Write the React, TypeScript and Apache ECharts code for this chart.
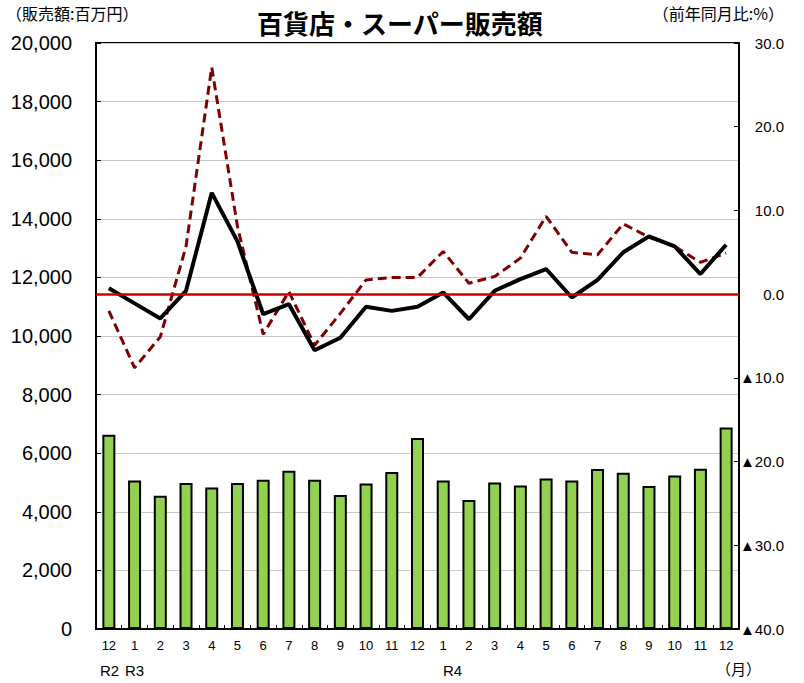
import React, { useEffect, useRef } from "react";
import * as echarts from "echarts";

const months = ["12", "1", "2", "3", "4", "5", "6", "7", "8", "9", "10", "11", "12", "1", "2", "3", "4", "5", "6", "7", "8", "9", "10", "11", "12"];
const sales = [6630, 5070, 4550, 4980, 4830, 4980, 5090, 5400, 5090, 4570, 4970, 5360, 6520, 5070, 4400, 5000, 4900, 5140, 5070, 5460, 5330, 4880, 5240, 5470, 6880];
const yoySolid = [0.7, -1.1, -2.9, 0.4, 12.1, 6.3, -2.4, -1.2, -6.7, -5.2, -1.5, -2.0, -1.5, 0.2, -3.0, 0.4, 1.8, 3.0, -0.4, 1.7, 5.0, 6.9, 5.7, 2.4, 5.9];
const yoyDashed = [-2.0, -8.8, -5.1, 5.7, 27.1, 8.1, -4.8, 0.3, -6.1, -2.3, 1.7, 2.0, 2.0, 5.1, 1.3, 2.1, 4.3, 9.3, 5.0, 4.7, 8.4, 6.8, 5.7, 3.8, 4.9];
const eraLabels = [
  { text: "R2", x: 100 },
  { text: "R3", x: 125 },
  { text: "R4", x: 443 },
];

const NUM_FONT = "'Liberation Sans', Arial, sans-serif";
const JP_FONT = "'Noto Sans CJK JP', sans-serif";

export default function App() {
  const ref = useRef<HTMLDivElement>(null);
  useEffect(() => {
    if (!ref.current) return;
    const chart = echarts.init(ref.current, null, { renderer: "svg" });
    chart.setOption({
      animation: false,
      backgroundColor: "#fff",
      grid: {
        left: 96,
        right: 65,
        top: 43,
        bottom: 54,
        show: true,
        borderColor: "#000",
        borderWidth: 2,
        backgroundColor: "transparent",
      },
      graphic: [
        {
          type: "text",
          left: 6,
          top: 5,
          style: { text: "（販売額:百万円）", font: `16px ${JP_FONT}`, fill: "#000" },
        },
        {
          type: "text",
          right: 20,
          top: 5,
          style: { text: "（前年同月比:%）", font: `16px ${JP_FONT}`, fill: "#000" },
        },
        {
          type: "text",
          left: 257,
          top: 9,
          style: { text: "百貨店・スーパー販売額", font: `bold 26px ${JP_FONT}`, fill: "#000" },
        },
        ...eraLabels.map((e) => ({
          type: "text",
          left: e.x,
          top: 663,
          style: { text: e.text, font: `15px ${NUM_FONT}`, fill: "#000" },
        })),
        {
          type: "text",
          left: 716,
          top: 661,
          style: { text: "（月）", font: `15px ${JP_FONT}`, fill: "#000" },
        },
      ],
      xAxis: {
        type: "category",
        data: months,
        boundaryGap: true,
        axisLine: { show: true, lineStyle: { color: "#000", width: 2 } },
        axisTick: { show: true, inside: true, length: 4, lineStyle: { color: "#000" } },
        axisLabel: { color: "#000", fontSize: 13, fontFamily: NUM_FONT, margin: 10, interval: 0 },
        splitLine: { show: false },
      },
      yAxis: [
        {
          type: "value",
          min: 0,
          max: 20000,
          interval: 2000,
          axisLine: { show: true, lineStyle: { color: "#000", width: 2 } },
          axisTick: { show: true, inside: true, length: 5, lineStyle: { color: "#000" } },
          axisLabel: {
            color: "#000",
            fontSize: 20,
            fontFamily: NUM_FONT,
            margin: 24,
            formatter: (v: number) => v.toLocaleString("en-US"),
          },
          splitLine: { show: true, lineStyle: { color: "#c8c8c8", width: 1 } },
        },
        {
          type: "value",
          min: -40,
          max: 30,
          interval: 10,
          position: "right",
          axisLine: { show: true, lineStyle: { color: "#000", width: 2 } },
          axisTick: { show: true, inside: true, length: 5, lineStyle: { color: "#000" } },
          axisLabel: {
            color: "#000",
            fontSize: 15,
            fontFamily: NUM_FONT,
            margin: 45,
            align: "right",
            formatter: (v: number) => (v < 0 ? "▲" + Math.abs(v).toFixed(1) : v.toFixed(1)),
          },
          splitLine: { show: false },
        },
      ],
      series: [
        {
          type: "bar",
          data: sales,
          yAxisIndex: 0,
          barWidth: 13,
          itemStyle: { color: "#92d050", borderColor: "#000", borderWidth: 2 },
        },
        {
          type: "line",
          data: yoyDashed,
          yAxisIndex: 1,
          symbol: "none",
          lineStyle: { color: "#800000", width: 3, type: [9, 5] },
          z: 3,
        },
        {
          type: "line",
          data: yoySolid,
          yAxisIndex: 1,
          symbol: "none",
          lineStyle: { color: "#000", width: 4 },
          z: 4,
          markLine: {
            silent: true,
            symbol: ["none", "none"],
            label: { show: false },
            lineStyle: { color: "#cc0000", width: 2.5, type: "solid" },
            data: [{ yAxis: 0 }],
          },
        },
      ],
    });
    return () => chart.dispose();
  }, []);
  return <div ref={ref} style={{ width: 804, height: 683, position: "absolute", left: 0, top: 0 }} />;
}
